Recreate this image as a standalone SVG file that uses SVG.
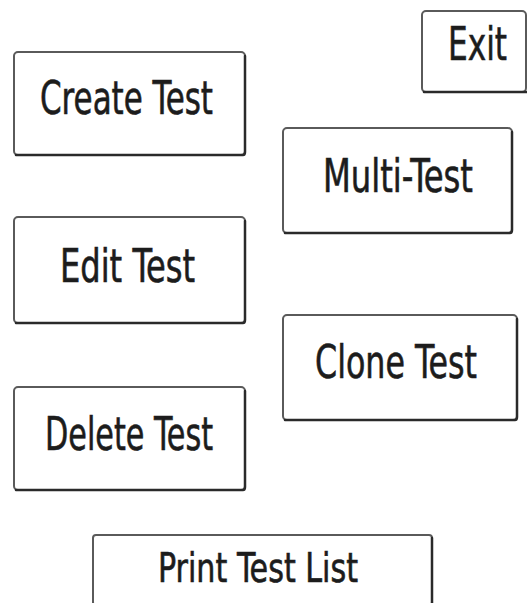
<svg xmlns="http://www.w3.org/2000/svg" width="527" height="603" viewBox="0 0 527 603">
  <style>
    .btn { fill: #ffffff; stroke: #5a5a5a; stroke-width: 2; }
    .edge { fill: none; stroke: #2a2a2a; stroke-width: 2.5; stroke-linecap: round; }
    .lbl { font-family: "Liberation Sans Narrow", "DejaVu Sans Condensed", "Liberation Sans", sans-serif; font-size: 47px; fill: #1c1c1c; stroke: #1c1c1c; stroke-width: 0.6; }
  </style>
  <rect width="527" height="603" fill="#ffffff"/>

  <g id="create-test">
    <rect class="btn" x="14" y="52" width="231" height="103" rx="4"/>
    <path class="edge" d="M16 155 H243 Q245 155 245 152 V56"/>
    <text class="lbl" x="40" y="114" textLength="173" lengthAdjust="spacingAndGlyphs">Create Test</text>
  </g>

  <g id="exit">
    <rect class="btn" x="422" y="11" width="104" height="81" rx="4"/>
    <path class="edge" d="M424 92 H527"/>
    <text class="lbl" x="448" y="60" textLength="59" lengthAdjust="spacingAndGlyphs">Exit</text>
  </g>

  <g id="multi-test">
    <rect class="btn" x="283" y="128" width="229" height="105" rx="4"/>
    <path class="edge" d="M285 233 H510 Q512 233 512 230 V132"/>
    <text class="lbl" x="323" y="192" textLength="150" lengthAdjust="spacingAndGlyphs">Multi-Test</text>
  </g>

  <g id="edit-test">
    <rect class="btn" x="14" y="217" width="231" height="106" rx="4"/>
    <path class="edge" d="M16 323 H243 Q245 323 245 320 V221"/>
    <text class="lbl" x="60" y="282" textLength="135" lengthAdjust="spacingAndGlyphs">Edit Test</text>
  </g>

  <g id="clone-test">
    <rect class="btn" x="283" y="315" width="234" height="105" rx="4"/>
    <path class="edge" d="M285 420 H515 Q517 420 517 417 V319"/>
    <text class="lbl" transform="translate(315 378) scale(0.75 1)" x="0" y="0">Clone Test</text>
  </g>

  <g id="delete-test">
    <rect class="btn" x="14" y="387" width="231" height="103" rx="4"/>
    <path class="edge" d="M16 490 H243 Q245 490 245 487 V391"/>
    <text class="lbl" x="45" y="450" textLength="168" lengthAdjust="spacingAndGlyphs">Delete Test</text>
  </g>

  <g id="print-test-list">
    <rect class="btn" x="93" y="535" width="339" height="70" rx="3"/>
    <path class="edge" d="M432 538 V603"/>
    <text class="lbl" x="158" y="582" textLength="200" lengthAdjust="spacingAndGlyphs" style="font-size:40px">Print Test List</text>
  </g>

  <g id="connectors"></g>
</svg>
